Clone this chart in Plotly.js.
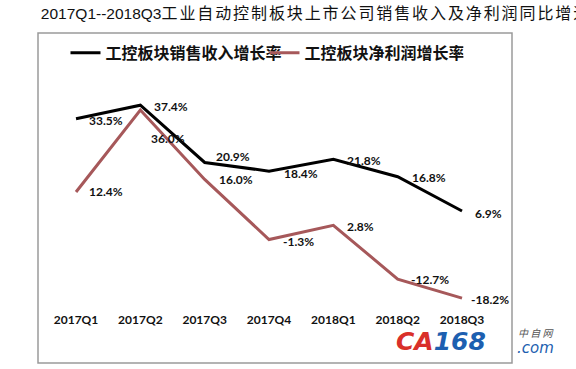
<!DOCTYPE html>
<html><head><meta charset="utf-8">
<script src="https://cdn.plot.ly/plotly-3.0.1.min.js"></script>
<style>html,body{margin:0;padding:0;background:#fff;}#chart{width:576px;height:369px;}</style>
</head><body><div id="chart"></div>
<script>
const categories = ['2017Q1','2017Q2','2017Q3','2017Q4','2018Q1','2018Q2','2018Q3'];
const revenueGrowth = [33.5, 37.4, 20.9, 18.4, 21.8, 16.8, 6.9];
const profitGrowth = [12.4, 36.0, 16.0, -1.3, 2.8, -12.7, -18.2];
const seriesNames = ['工控板块销售收入增长率', '工控板块净利润增长率'];
const titleLatin = '2017Q1--2018Q3';
const titleCJK = '工业自动控制板块上市公司销售收入及净利润同比增速';

const revShift = [[11,-2],[12,-1],[9,6],[13,-2],[12,-1],[12,-1],[11,-2]];
const proShift = [[11,0],[9,-28],[12,0],[12,-2],[12,-1],[11,0],[7,-1]];

const labelFont = {family:'Lato, "Open Sans", sans-serif', size:12, color:'#111', weight:'bold'};
const annotations = [];
categories.forEach((c,i)=>{
  annotations.push({x:c, y:revenueGrowth[i], xref:'x', yref:'y', text:revenueGrowth[i].toFixed(1)+'%',
    showarrow:false, xanchor:'left', yanchor:'middle', xshift:revShift[i][0], yshift:revShift[i][1], font:labelFont});
  annotations.push({x:c, y:profitGrowth[i], xref:'x', yref:'y', text:profitGrowth[i].toFixed(1)+'%',
    showarrow:false, xanchor:'left', yanchor:'middle', xshift:proShift[i][0], yshift:proShift[i][1], font:labelFont});
});
// watermark
annotations.push({xref:'paper', yref:'paper', x:0.752, y:-0.11, xanchor:'left', yanchor:'middle', showarrow:false,
  text:'<i><b><span style="color:#d9302a">CA</span><span style="color:#1d5fb0">168</span></b></i>',
  font:{family:'"DejaVu Sans", sans-serif', size:25}});
annotations.push({xref:'paper', yref:'paper', x:1.008, y:-0.078, xanchor:'left', yanchor:'middle', showarrow:false,
  text:'<i>中 自 网</i>', font:{family:'"Noto Sans CJK SC", sans-serif', size:10, color:'#555'}});
annotations.push({xref:'paper', yref:'paper', x:1.006, y:-0.132, xanchor:'left', yanchor:'middle', showarrow:false,
  text:'<i>.com</i>', font:{family:'"DejaVu Sans", sans-serif', size:15, color:'#1d5fb0'}});

const traces = [
  {x:categories, y:revenueGrowth, name:seriesNames[0], type:'scatter', mode:'lines',
   line:{color:'#000000', width:3}},
  {x:categories, y:profitGrowth, name:seriesNames[1], type:'scatter', mode:'lines',
   line:{color:'#a6585a', width:3}}
];

const layout = {
  width:576, height:369,
  margin:{l:38, r:64, t:33, b:58},
  paper_bgcolor:'#ffffff', plot_bgcolor:'rgba(0,0,0,0)',
  title:{text:titleLatin + '<span style="font-family:\'Noto Sans CJK SC\';font-size:16px;letter-spacing:1.9px">' + titleCJK + '</span>',
    x:0.006, xanchor:'left', xref:'paper', y:0.963, yanchor:'middle', yref:'container',
    font:{family:'"Liberation Sans", Arial, sans-serif', size:15.5, color:'#111'}},
  xaxis:{type:'category', range:[-0.591, 6.777], showgrid:false, zeroline:false, showline:false, ticks:'',
    tickfont:{family:'Lato, "Open Sans", sans-serif', size:12, color:'#111', weight:'bold'}, fixedrange:true},
  yaxis:{range:[-21.9, 58.2], visible:false, fixedrange:true},
  showlegend:true,
  legend:{orientation:'h', x:0.058, xanchor:'left', y:0.99, yanchor:'top', bgcolor:'rgba(0,0,0,0)',
    font:{family:'"Noto Sans CJK SC", sans-serif', size:16, color:'#111', weight:'bold'}, itemwidth:30,
    entrywidth:154, entrywidthmode:'pixels'},
  shapes:[{type:'rect', xref:'paper', yref:'paper', x0:0, x1:1, y0:-0.187, y1:1.0,
    line:{color:'#9a9a9a', width:1.5}, fillcolor:'rgba(0,0,0,0)', layer:'below'}],
  annotations:annotations
};
Plotly.newPlot('chart', traces, layout, {displayModeBar:false, staticPlot:true});
</script></body></html>
